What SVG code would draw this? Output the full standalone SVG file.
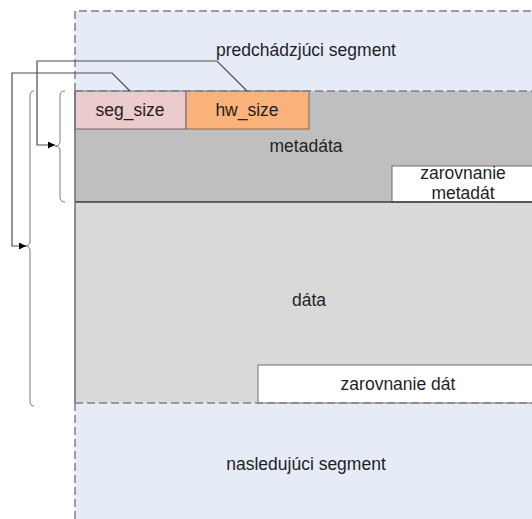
<svg xmlns="http://www.w3.org/2000/svg" width="532" height="519" viewBox="0 0 532 519">
<defs>
<style>
text{font-family:"Liberation Sans",Arial,sans-serif;font-size:17.5px;fill:#1f1f1f;text-anchor:middle}
.dash{fill:none;stroke:#808080;stroke-width:1.5;stroke-dasharray:8 4}
.box{stroke:#6e6e6e;stroke-width:1}
.brace{fill:none;stroke:#7a7a7a;stroke-width:1}
.conn{fill:none;stroke:#4d4d4d;stroke-width:1.2;marker-end:url(#arr)}
</style>
<marker id="arr" viewBox="0 0 10 10" refX="10" refY="5" markerWidth="7" markerHeight="7" markerUnits="userSpaceOnUse" orient="auto">
<path d="M0,0 L10,5 L0,10 z" fill="#000"/>
</marker>
</defs>
<g id="prev-segment">
<rect x="75" y="11" width="470" height="80" fill="#E6ECF7"/>
<text x="306" y="56">predchádzjúci segment</text>
</g>
<g id="next-segment">
<rect x="75" y="403" width="470" height="120" fill="#E6ECF7"/>
<text x="306" y="470">nasledujúci segment</text>
</g>
<g id="metadata">
<rect x="75" y="91" width="470" height="111" fill="#BFBFBF"/>
<text x="306" y="152">metadáta</text>
</g>
<g id="data">
<rect x="75" y="202" width="470" height="201" fill="#D9D9D9"/>
<text x="309" y="306">dáta</text>
</g>
<g id="seg_size">
<rect class="box" x="75" y="91" width="111" height="38" fill="#EBCBCB"/>
<text x="130" y="116">seg_size</text>
</g>
<g id="hw_size">
<rect class="box" x="186" y="91" width="123" height="38" fill="#F9B27A"/>
<text x="247" y="116">hw_size</text>
</g>
<g id="align-metadata">
<rect class="box" x="392" y="166" width="150" height="36" fill="#FFFFFF"/>
<text x="463" y="179">zarovnanie</text>
<text x="463" y="199">metadát</text>
</g>
<g id="align-data">
<rect class="box" x="258" y="365" width="290" height="38" fill="#FFFFFF"/>
<text x="398" y="390">zarovnanie dát</text>
</g>
<g id="borders">
<line x1="75" y1="202" x2="532" y2="202" stroke="#3a3a3a" stroke-width="1.5"/>
<line x1="75" y1="91" x2="75" y2="403" stroke="#6e6e6e" stroke-width="1.5"/>
<path class="dash" d="M75,519 V403 M75,91 V11 H532"/>
<path class="dash" d="M75,91 H532 M75,403 H532"/>
</g>
<g id="braces">
<path class="brace" d="M65,91 Q60,91 60,96 V141 Q60,146 55,146 Q60,146 60,151 V197 Q60,202 65,202"/>
<path class="brace" d="M34,91 Q30,91 30,96 V241 Q30,246 25,246 Q30,246 30,251 V401 Q30,406 34,406"/>
</g>
<g id="connectors">
<path class="conn" d="M130,91 L112,73 H12 V246 H26"/>
<path class="conn" d="M247,91 L217,61 H37 V145 H55"/>
</g>
</svg>
